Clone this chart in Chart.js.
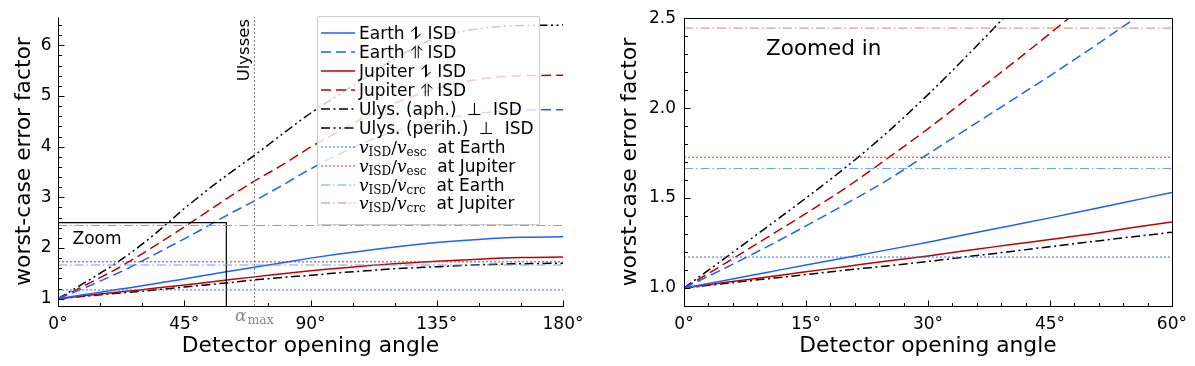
<!DOCTYPE html>
<html>
<head>
<meta charset="utf-8">
<script src="https://cdn.jsdelivr.net/npm/chart.js"></script>
<style>
  body { margin: 0; background: #fff; }
  #wrap { position: relative; width: 1195px; height: 366px; font-family: "DejaVu Sans", sans-serif; }
  #leftChart { position: absolute; left: 0; top: 0; }
  #rightChart { position: absolute; left: 600px; top: 0; }
  #legend {
    position: absolute; left: 317px; top: 16px; width: 223px; height: 209px;
    background: rgba(255,255,255,0.8); border: 1px solid #ccc; border-radius: 2px;
    box-sizing: border-box; padding-top: 7px;
  }
  .row { height: 18.9px; display: flex; align-items: center; font-size: 17px; white-space: nowrap; }
  .row svg { margin-left: 3px; margin-right: 4px; flex: none; }
  .m { font-family: "DejaVu Serif", serif; font-size: 17px; }
  .m sub { font-size: 12px; vertical-align: -3px; line-height: 0; }
</style>
</head>
<body>
<div id="wrap">
  <canvas id="leftChart" width="600" height="366"></canvas>
  <canvas id="rightChart" width="595" height="366"></canvas>
  <div id="legend"></div>
</div>
<script>
// detector opening angle (deg)
const angles = [0, 5, 10, 15, 20, 25, 30, 35, 40, 45, 50, 55, 60, 70, 80, 90, 100, 110, 120, 135, 150, 165, 180];

// worst-case error factor per configuration
const earthAnti = [1, 1.042, 1.085, 1.128, 1.17, 1.212, 1.255, 1.30, 1.345, 1.39, 1.437, 1.484, 1.531, 1.62, 1.71, 1.80, 1.88, 1.95, 2.02, 2.11, 2.17, 2.21, 2.22];
const earthPar  = [1, 1.11, 1.225, 1.345, 1.47, 1.60, 1.745, 1.89, 2.035, 2.18, 2.33, 2.485, 2.64, 2.93, 3.24, 3.56, 3.85, 4.10, 4.30, 4.52, 4.66, 4.72, 4.73];
const jupAnti   = [1, 1.03, 1.06, 1.09, 1.12, 1.15, 1.178, 1.21, 1.24, 1.27, 1.30, 1.335, 1.367, 1.43, 1.49, 1.55, 1.60, 1.65, 1.69, 1.74, 1.78, 1.81, 1.82];
const jupPar    = [1, 1.135, 1.275, 1.415, 1.56, 1.72, 1.885, 2.06, 2.235, 2.415, 2.60, 2.785, 2.97, 3.32, 3.64, 3.99, 4.30, 4.60, 4.86, 5.15, 5.33, 5.40, 5.41];
const ulysAph   = [1, 1.025, 1.05, 1.075, 1.10, 1.123, 1.148, 1.175, 1.202, 1.23, 1.257, 1.284, 1.31, 1.37, 1.42, 1.46, 1.51, 1.55, 1.59, 1.63, 1.67, 1.69, 1.70];
const ulysPerih = [1, 1.165, 1.332, 1.50, 1.675, 1.865, 2.075, 2.30, 2.535, 2.78, 3.00, 3.22, 3.43, 3.83, 4.25, 4.66, 5.02, 5.38, 5.74, 6.15, 6.33, 6.39, 6.40];

// horizontal reference levels
const vEscEarth = 1.172;
const vEscJup = 1.727;
const vCrcEarth = 1.664;
const vCrcJup = 2.445;

const alphaMax = 70;       // Ulysses
const zoomCorner = [60, 2.5];

// axis ticks
const xTicksLeft = [0, 45, 90, 135, 180];
const yTicksLeft = [1, 2, 3, 4, 5, 6];
const xTicksRight = [0, 15, 30, 45, 60];
const yTicksRight = [1.0, 1.5, 2.0, 2.5];

const BLUE = '#1a62ff', RED = '#c00000';
const DASHED = [10, 5], DASHDOT = [9, 3.5, 2, 3.5], DASHDOT2 = [9, 3.5, 2, 3.5, 2, 3.5];
const DOTTED = [2, 2], LIGHTDD = [9, 3, 1.5, 3];

const curves = [
  { label: 'Earth ⥮ ISD', data: earthAnti, color: BLUE, dash: [] },
  { label: 'Earth ⥣ ISD', data: earthPar, color: BLUE, dash: DASHED },
  { label: 'Jupiter ⥮ ISD', data: jupAnti, color: RED, dash: [] },
  { label: 'Jupiter ⥣ ISD', data: jupPar, color: RED, dash: DASHED },
  { label: 'Ulys. (aph.) &nbsp;⊥&nbsp; ISD', data: ulysAph, color: '#000', dash: DASHDOT },
  { label: 'Ulys. (perih.) &nbsp;⊥&nbsp; ISD', data: ulysPerih, color: '#000', dash: DASHDOT2 }
];
const refs = [
  { label: '<span class="m"><i>v</i><sub>ISD</sub>/<i>v</i><sub>esc</sub></span>&nbsp; at Earth', v: vEscEarth, color: '#2f72ff', dash: DOTTED },
  { label: '<span class="m"><i>v</i><sub>ISD</sub>/<i>v</i><sub>esc</sub></span>&nbsp; at Jupiter', v: vEscJup, color: '#c83232', dash: DOTTED },
  { label: '<span class="m"><i>v</i><sub>ISD</sub>/<i>v</i><sub>crc</sub></span>&nbsp; at Earth', v: vCrcEarth, color: '#62a0ff', dash: LIGHTDD },
  { label: '<span class="m"><i>v</i><sub>ISD</sub>/<i>v</i><sub>crc</sub></span>&nbsp; at Jupiter', v: vCrcJup, color: '#d9837c', dash: LIGHTDD }
];

Chart.defaults.font.family = '"DejaVu Sans", sans-serif';
Chart.defaults.color = '#000';
Chart.defaults.animation = false;

function makeDatasets(xMax, yMin, yMax, extras) {
  const ds = [];
  refs.forEach(r => ds.push({
    data: [{ x: 0, y: r.v }, { x: xMax, y: r.v }],
    borderColor: r.color, borderDash: r.dash, borderWidth: 1, pointRadius: 0
  }));
  if (extras) {
    ds.push({
      data: [{ x: alphaMax, y: yMin }, { x: alphaMax, y: yMax }],
      borderColor: '#777', borderDash: [2, 2], borderWidth: 1, pointRadius: 0
    });
    ds.push({
      data: [{ x: 0, y: zoomCorner[1] }, { x: zoomCorner[0], y: zoomCorner[1] }, { x: zoomCorner[0], y: yMin }],
      borderColor: '#000', borderWidth: 1.2, pointRadius: 0
    });
  }
  curves.forEach(c => ds.push({
    data: angles.map((a, i) => ({ x: a, y: c.data[i] })),
    borderColor: c.color, borderDash: c.dash, borderWidth: 1.5, pointRadius: 0,
    cubicInterpolationMode: 'monotone'
  }));
  return ds;
}

// spines and inward ticks, matplotlib style
const spines = {
  id: 'spines',
  afterDatasetsDraw(chart, args, o) {
    const { ctx, chartArea: a, scales: { x, y } } = chart;
    const L = Math.round(a.left) + 0.5, R = Math.round(a.right) + 0.5;
    const T = Math.round(a.top) + 0.5, B = Math.round(a.bottom) + 0.5;
    ctx.save();
    ctx.strokeStyle = '#000';
    ctx.lineWidth = 1;
    ctx.setLineDash([]);
    ctx.beginPath();
    if (o.box) { ctx.moveTo(R, B); ctx.lineTo(R, T); ctx.lineTo(L, T); }
    ctx.moveTo(L, T); ctx.lineTo(L, B); ctx.lineTo(R, B);
    const xTick = (v, len) => { const p = Math.round(x.getPixelForValue(v)) + 0.5; ctx.moveTo(p, B); ctx.lineTo(p, B - len); };
    const yTick = (v, len) => { const p = Math.round(y.getPixelForValue(v)) + 0.5; ctx.moveTo(L, p); ctx.lineTo(L + len, p); };
    const n1 = Math.round((x.max - x.min) / o.xMinor);
    for (let i = 0; i <= n1; i++) xTick(x.min + i * o.xMinor, 3.5);
    o.xMajor.forEach(v => xTick(v, 6));
    const start = Math.ceil(y.min / o.yMinor - 1e-6);
    for (let k = start; k * o.yMinor <= y.max + 1e-6; k++) {
      const v = k * o.yMinor;
      if (v > y.min + 1e-6) yTick(v, 3.5);
    }
    o.yMajor.forEach(v => yTick(v, 6));
    ctx.stroke();
    ctx.restore();
  }
};

const leftNotes = {
  id: 'leftNotes',
  afterDatasetsDraw(chart) {
    const { ctx, chartArea: a, scales: { x } } = chart;
    const xa = x.getPixelForValue(alphaMax);
    ctx.save();
    ctx.fillStyle = '#000';
    ctx.font = '16.5px "DejaVu Sans"';
    ctx.translate(xa - 10, a.top + 2);
    ctx.rotate(-Math.PI / 2);
    ctx.textAlign = 'right';
    ctx.textBaseline = 'middle';
    ctx.fillText('Ulysses', 0, 0);
    ctx.restore();

    ctx.save();
    ctx.fillStyle = '#000';
    ctx.font = '17px "DejaVu Sans"';
    ctx.textBaseline = 'alphabetic';
    ctx.fillText('Zoom', a.left + 14.5, 244);
    // alpha_max label under the axis
    ctx.fillStyle = '#888';
    ctx.font = 'italic 17px "DejaVu Serif"';
    const w1 = ctx.measureText('α').width;
    ctx.font = '12.5px "DejaVu Serif"';
    const w2 = ctx.measureText('max').width;
    const x0 = xa - (w1 + w2 + 1) / 2;
    ctx.font = 'italic 17px "DejaVu Serif"';
    ctx.fillText('α', x0, 321);
    ctx.font = '12.5px "DejaVu Serif"';
    ctx.fillText('max', x0 + w1 + 1, 323.5);
    ctx.restore();
  }
};

const rightNotes = {
  id: 'rightNotes',
  afterDatasetsDraw(chart) {
    const { ctx } = chart;
    ctx.save();
    ctx.fillStyle = '#000';
    ctx.font = '21.5px "DejaVu Sans"';
    ctx.textBaseline = 'alphabetic';
    ctx.fillText('Zoomed in', 166, 54.5);
    ctx.restore();
  }
};

function axes(xMin, xMax, yMin, yMax, xTicks, yTicks, yFmt, yWidth, yPad, titlePad) {
  return {
    x: {
      type: 'linear', min: xMin, max: xMax,
      afterBuildTicks: s => { s.ticks = xTicks.map(v => ({ value: v })); },
      afterFit: s => { s.height = 60; },
      grid: { display: false, drawTicks: false }, border: { display: false },
      ticks: { padding: 8, font: { size: 17 }, color: '#000', maxRotation: 0, autoSkip: false, callback: v => v + '°' },
      title: { display: true, text: 'Detector opening angle', font: { size: 21.8 }, color: '#000', padding: { top: 0, bottom: 6.5 } }
    },
    y: {
      type: 'linear', min: yMin, max: yMax,
      afterBuildTicks: s => { s.ticks = yTicks.map(v => ({ value: v })); },
      afterFit: s => { s.width = yWidth; },
      grid: { display: false, drawTicks: false }, border: { display: false },
      ticks: { padding: yPad, font: { size: 17 }, color: '#000', autoSkip: false, callback: yFmt },
      title: { display: true, text: 'worst-case error factor', font: { size: 21.8 }, color: '#000', padding: { top: titlePad, bottom: 0 } }
    }
  };
}

new Chart(document.getElementById('leftChart'), {
  type: 'line',
  data: { datasets: makeDatasets(180, 0.855, 6.56, true) },
  options: {
    responsive: false,
    layout: { padding: { left: 0, right: 37, top: 17, bottom: 0 }, autoPadding: false },
    scales: axes(0, 180, 0.855, 6.56, xTicksLeft, yTicksLeft, v => String(v), 58, 6.5, 11),
    plugins: {
      legend: { display: false }, tooltip: { enabled: false },
      spines: { box: false, xMajor: xTicksLeft, xMinor: 15, yMajor: yTicksLeft, yMinor: 0.2 }
    }
  },
  plugins: [spines, leftNotes]
});

new Chart(document.getElementById('rightChart'), {
  type: 'line',
  data: { datasets: makeDatasets(60, 0.9, 2.5, false) },
  options: {
    responsive: false,
    layout: { padding: { left: 0, right: 17, top: 17, bottom: 0 }, autoPadding: false },
    scales: axes(0, 60, 0.9, 2.5, xTicksRight, yTicksRight, v => v.toFixed(1), 84, 8, 17.5),
    plugins: {
      legend: { display: false }, tooltip: { enabled: false },
      spines: { box: true, xMajor: xTicksRight, xMinor: 3, yMajor: yTicksRight, yMinor: 0.1 }
    }
  },
  plugins: [spines, rightNotes]
});

// HTML legend (needs sub/superscripts)
const legend = document.getElementById('legend');
function sample(color, dash, width) {
  return '<svg width="34" height="10"><line x1="0" y1="5" x2="34" y2="5" stroke="' + color +
    '" stroke-width="' + width + '" stroke-dasharray="' + (dash.length ? dash.join(' ') : 'none') + '"/></svg>';
}
curves.forEach(c => {
  legend.insertAdjacentHTML('beforeend', '<div class="row">' + sample(c.color, c.dash, 1.5) + '<span>' + c.label + '</span></div>');
});
refs.forEach(r => {
  legend.insertAdjacentHTML('beforeend', '<div class="row">' + sample(r.color, r.dash, 1) + '<span>' + r.label + '</span></div>');
});
</script>
</body>
</html>
